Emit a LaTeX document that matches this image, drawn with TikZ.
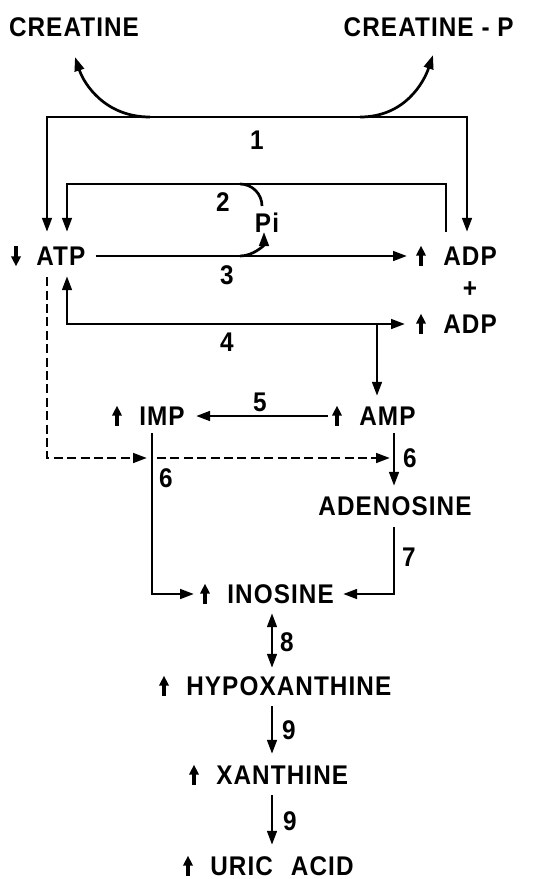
\documentclass[tikz,border=0pt]{standalone}
\usepackage{fontspec}
\setmainfont{Liberation Sans}[FakeStretch=0.9, LetterSpace=4]
\usetikzlibrary{positioning, calc, arrows.meta}

\tikzset{
	upmark/.pic={\draw[line width=1.6pt, -{Triangle[length=5pt, width=4.6pt]}] (0, -4.9pt) -- (0, 5.2pt);},
	downmark/.pic={\draw[line width=1.6pt, -{Triangle[length=5pt, width=4.6pt]}] (0, 4.9pt) -- (0, -5.2pt);}
}

\begin{document}
\begin{tikzpicture}[x=0.5pt, y=-0.5pt, line width=1.35pt,
	>={Triangle[length=7pt, width=4.8pt]},
	every node/.style={font=\fontsize{13.5}{16}\selectfont\bfseries, inner sep=0pt, text height=9.8pt, text depth=0pt},
	dashline/.style={dash pattern=on 4.5pt off 2.2pt}]
	\useasboundingbox (0, 0) rectangle (549, 879);
	% compounds
	\node (creat) at (74, 27) {CREATINE};
	\node[anchor=east] (creatp) at (515, 27) {CREATINE - P};
	\node[anchor=west] (atp) at (35, 256) {ATP};
	\node[anchor=west] (adp1) at (442, 256) {ADP};
	\node (plus) at (470, 288) {+};
	\node[anchor=west] (adp2) at (442, 324) {ADP};
	\node[anchor=west] (imp) at (138, 416) {IMP};
	\node[anchor=west] (amp) at (358, 416) {AMP};
	\node (adeno) at (395, 506) {ADENOSINE};
	\node[anchor=west] (ino) at (226, 594) {INOSINE};
	\node[anchor=west] (hypo) at (185, 686) {HYPOXANTHINE};
	\node[anchor=west] (xan) at (215, 775) {XANTHINE};
	\node[anchor=west] (uric) at (209, 866) {URIC\hspace{9pt}ACID};
	\node (pi) at (267, 223) {Pi};
	% rise and fall
	\pic at ([xshift=-9.5pt]atp.west) {downmark};
	\foreach \n in {adp1, adp2, imp, amp, ino, hypo, xan, uric}
		\pic at ([xshift=-10.5pt]\n.west) {upmark};
	% reaction numbers
	\node (r1) at (257, 140) {1};
	\node (r2) at (223, 202) {2};
	\node (r3) at (227, 275) {3};
	\node (r4) at (227, 342) {4};
	\node (r5) at (260, 402) {5};
	\node (r6a) at (166, 478) {6};
	\node (r6b) at (410, 458) {6};
	\node (r7) at (409, 557) {7};
	\node (r8) at (287, 642) {8};
	\node (r9a) at (289, 730) {9};
	\node (r9b) at (290, 821) {9};
	% routing points
	\coordinate (b1l) at (47, 117);
	\coordinate (b1r) at (467, 117);
	\coordinate (b2l) at (67, 184);
	\coordinate (b2r) at (446, 184);
	\coordinate (b4l) at (67, 324);
	\coordinate (b4m) at (377, 324);
	\coordinate (v6l) at (152, 433);
	\coordinate (v6r) at (394, 433);
	\coordinate (v7) at (394, 527);
	\coordinate (mid) at (272, 0);
	% creatine kinase
	\draw[->] (150, 117) .. controls (105, 117) and (84, 84) .. (75, 57);
	\draw[->] (360, 117) .. controls (405, 117) and (424, 82) .. (433, 55);
	\draw[<->, shorten <=6.5pt, shorten >=6.5pt] (atp.north -| b1l) -- (b1l) -- (b1r) -- (adp1.north -| b1r);
	% 2 and 3
	\draw[->, shorten <=6.5pt, shorten >=6.5pt] (adp1.north -| b2r) -- (b2r) -- (b2l) -- (atp.north -| b2l);
	\draw (240, 184) arc[start angle=-90, end angle=0, radius=22];
	\draw[->, shorten <=4.5pt, shorten >=17.5pt] (atp.east) -- (adp1.west);
	\draw[->] (240, 256) arc[start angle=90, end angle=0, radius=24];
	% 4
	\draw[<->, shorten <=4.5pt, shorten >=18.5pt] (atp.south -| b4l) -- (b4l) -- (adp2.west);
	\draw[->, shorten >=4.5pt] (b4m) -- (amp.north -| b4m);
	% 5
	\draw[->, shorten <=15pt, shorten >=5pt] (amp.west) -- (imp.east);
	% 6
	\draw[dashline, ->] ([yshift=-5pt]atp.south -| b1l) -- (b1l |- r6b) -- ([xshift=-2.5pt]v6l |- r6b);
	\draw[dashline, ->] ([xshift=2.5pt]v6l |- r6b) -- ([xshift=-2pt]v6r |- r6b);
	\draw[->, shorten >=16pt] (v6l) -- (v6l |- ino) -- (ino.west);
	\draw[->, shorten >=4.5pt] (v6r) -- (adeno.north -| v6r);
	% 7
	\draw[->, shorten >=4pt] (v7) -- (v7 |- ino) -- (ino.east);
	% 8 and 9
	\draw[<->, shorten <=4pt, shorten >=3.5pt] (ino.south -| mid) -- (hypo.north -| mid);
	\draw[->, shorten <=4.5pt, shorten >=5pt] (hypo.south -| mid) -- (xan.north -| mid);
	\draw[->, shorten <=4.5pt, shorten >=5pt] (xan.south -| mid) -- (uric.north -| mid);
\end{tikzpicture}
\end{document}
